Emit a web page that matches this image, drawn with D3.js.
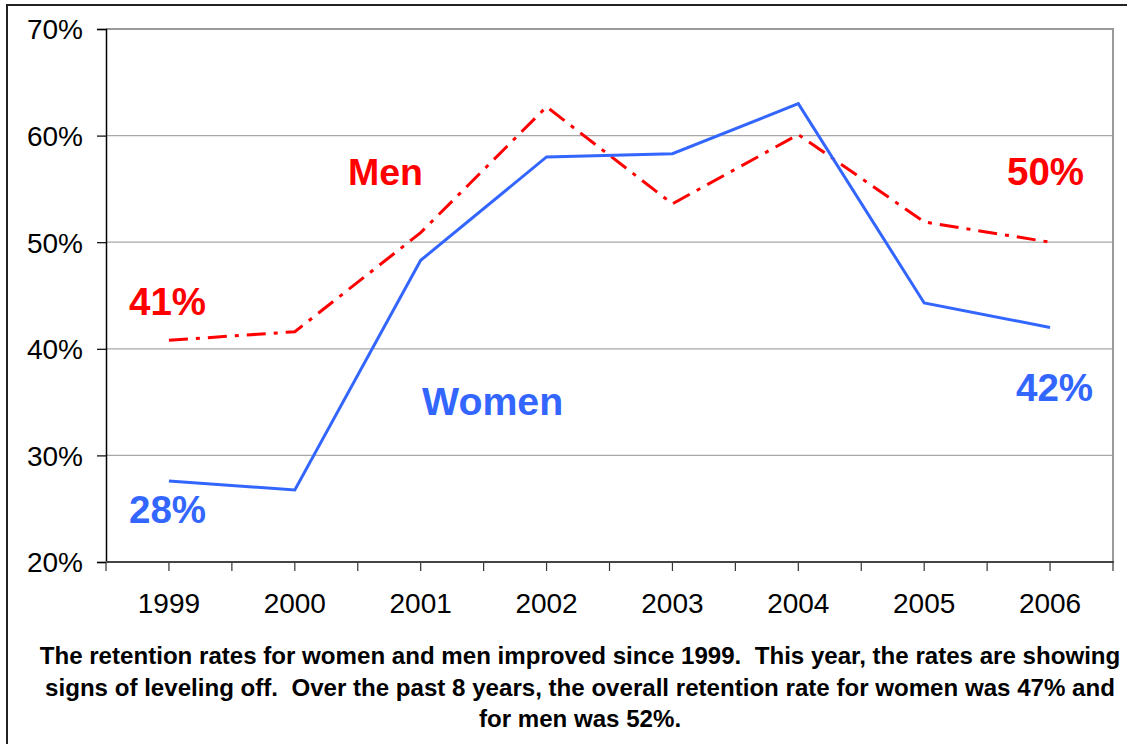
<!DOCTYPE html>
<html>
<head>
<meta charset="utf-8">
<script src="https://cdn.jsdelivr.net/npm/d3@7"></script>
<style>
  html, body { margin: 0; padding: 0; background: #fff; }
  svg { display: block; font-family: "Liberation Sans", Arial, sans-serif; }
</style>
</head>
<body>
<svg id="chart" width="1127" height="744"></svg>
<script>
const years = ["1999", "2000", "2001", "2002", "2003", "2004", "2005", "2006"];
const women = [27.6, 26.75, 48.3, 58.0, 58.3, 63.0, 44.3, 42.0];
const men   = [40.8, 41.6, 50.9, 62.7, 53.6, 60.1, 51.9, 50.0];
const yTicks = [20, 30, 40, 50, 60, 70];
const captionLines = [
  "The retention rates for women and men improved since 1999.  This year, the rates are showing",
  "signs of leveling off.  Over the past 8 years, the overall retention rate for women was 47% and",
  "for men was 52%."
];

const svg = d3.select("#chart");
const pLeft = 106, pRight = 1113, pTop = 29, pBottom = 562;
const blue = "#3366FF", red = "#FF0000";

const x = d3.scaleBand().domain(years).range([pLeft, pRight]).padding(0);
const y = d3.scaleLinear().domain([20, 70]).range([pBottom, pTop]);
const cx = d => x(d) + x.bandwidth() / 2;

// outer border
svg.append("rect").attr("x", 7).attr("y", 5).attr("width", 1140).attr("height", 760)
  .attr("fill", "none").attr("stroke", "#222").attr("stroke-width", 2);

// gridlines
svg.append("g").selectAll("line").data(yTicks.filter(t => t > 20 && t < 70)).join("line")
  .attr("x1", pLeft).attr("x2", pRight).attr("y1", d => y(d)).attr("y2", d => y(d))
  .attr("stroke", "#a8a8a8").attr("stroke-width", 1.2);

// plot area top/right border
svg.append("path")
  .attr("d", `M${pLeft},${y(70)}H${pRight}V${pBottom}`)
  .attr("fill", "none").attr("stroke", "#9a9a9a").attr("stroke-width", 2);

// y axis
const yAxis = d3.axisLeft(y).tickValues(yTicks).tickFormat(d => d + "%").tickSize(9).tickPadding(14);
const gy = svg.append("g").attr("transform", `translate(${pLeft},0)`).call(yAxis);
gy.select(".domain").attr("stroke", "#000").attr("stroke-width", 1.5);
gy.selectAll(".tick line").attr("stroke", "#000").attr("stroke-width", 1.2);
gy.selectAll(".tick text").attr("font-size", 28).attr("fill", "#000")
  .attr("font-family", "Liberation Sans, Arial, sans-serif").attr("dy", "0.35em");

// x axis ticks at every half band
const halfTicks = d3.range(0, years.length * 2 + 1).map(i => pLeft + i * x.bandwidth() / 2);
svg.append("g").selectAll("line").data(halfTicks).join("line")
  .attr("x1", d => d).attr("x2", d => d).attr("y1", pBottom).attr("y2", pBottom + 9)
  .attr("stroke", "#333").attr("stroke-width", 1.2);
svg.append("line").attr("x1", pLeft).attr("x2", pRight + 1).attr("y1", pBottom).attr("y2", pBottom)
  .attr("stroke", "#444").attr("stroke-width", 2);
svg.append("g").selectAll("text").data(years).join("text")
  .attr("x", d => cx(d)).attr("y", 613).attr("text-anchor", "middle")
  .attr("font-size", 28).attr("fill", "#000").text(d => d);

// lines
const line = d3.line().x((d, i) => cx(years[i])).y(d => y(d));
svg.append("path").datum(men).attr("d", line).attr("fill", "none")
  .attr("stroke", red).attr("stroke-width", 3).attr("stroke-dasharray", "19,8,4,8");
svg.append("path").datum(women).attr("d", line).attr("fill", "none")
  .attr("stroke", blue).attr("stroke-width", 3).attr("stroke-linejoin", "miter");

// labels
const labels = [
  { t: "Men", x: 348, y: 185, c: red, s: 37.5 },
  { t: "41%", x: 129, y: 315, c: red, s: 38.5 },
  { t: "50%", x: 1007, y: 185, c: red, s: 38.5 },
  { t: "Women", x: 422, y: 415, c: blue, s: 39.3 },
  { t: "28%", x: 129, y: 523, c: blue, s: 38.5 },
  { t: "42%", x: 1016, y: 401, c: blue, s: 38.5 }
];
svg.append("g").selectAll("text").data(labels).join("text")
  .attr("x", d => d.x).attr("y", d => d.y).attr("fill", d => d.c)
  .attr("font-size", d => d.s).attr("font-weight", "bold").text(d => d.t);

// caption
svg.append("g").selectAll("text").data(captionLines).join("text")
  .attr("x", 580).attr("y", (d, i) => 664 + i * 31.5).attr("text-anchor", "middle")
  .attr("font-size", 24.1).attr("font-weight", "bold").attr("fill", "#000")
  .style("white-space", "pre").attr("xml:space", "preserve").text(d => d);
</script>
</body>
</html>
